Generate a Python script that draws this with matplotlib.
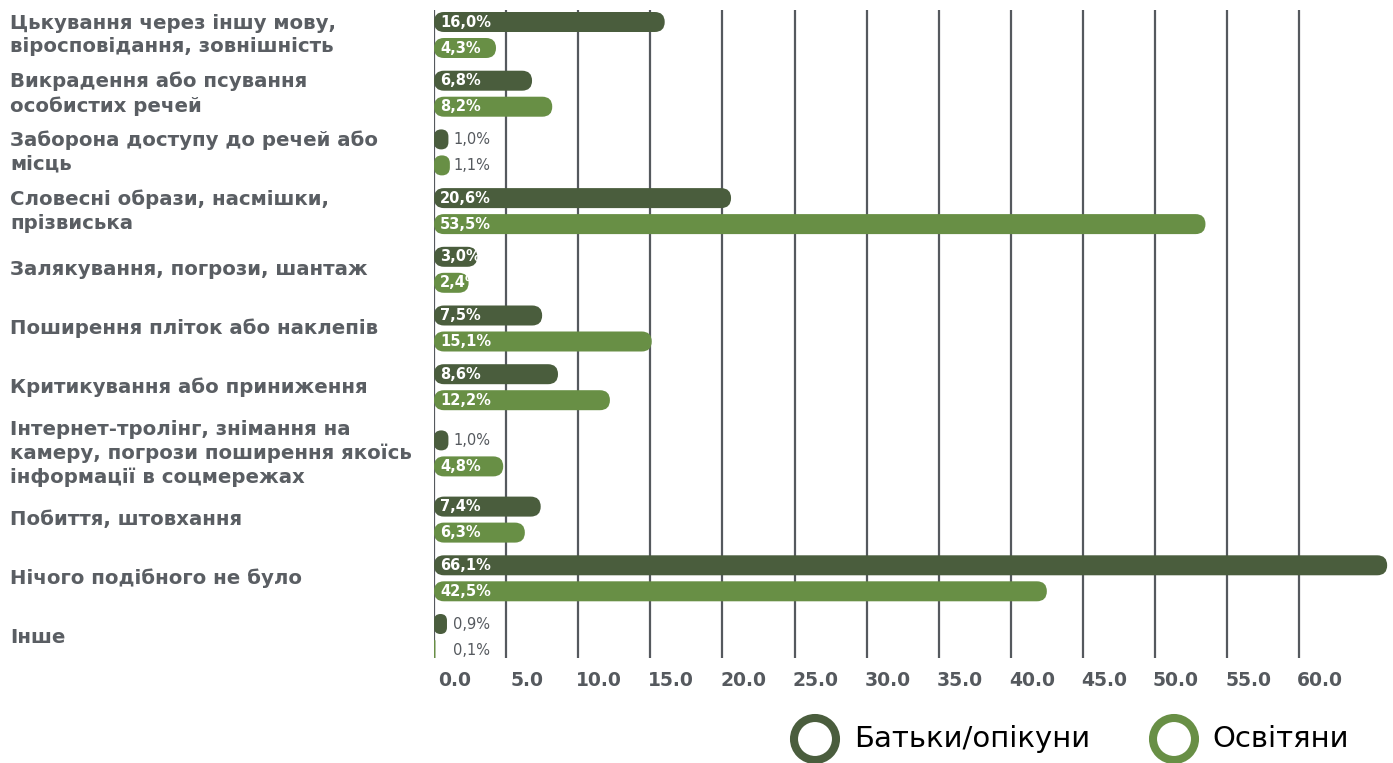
import numpy as np
import matplotlib.pyplot as plt
from matplotlib.patches import FancyBboxPatch, Circle

# дані
categories = [
    "Цькування через іншу мову,\nвіросповідання, зовнішність",
    "Викрадення або псування\nособистих речей",
    "Заборона доступу до речей або\nмісць",
    "Словесні образи, насмішки,\nпрізвиська",
    "Залякування, погрози, шантаж",
    "Поширення пліток або наклепів",
    "Критикування або приниження",
    "Інтернет-тролінг, знімання на\nкамеру, погрози поширення якоїсь\nінформації в соцмережах",
    "Побиття, штовхання",
    "Нічого подібного не було",
    "Інше",
]
parents = [16.0, 6.8, 1.0, 20.6, 3.0, 7.5, 8.6, 1.0, 7.4, 66.1, 0.9]
teachers = [4.3, 8.2, 1.1, 53.5, 2.4, 15.1, 12.2, 4.8, 6.3, 42.5, 0.1]
series_names = ["Батьки/опікуни", "Освітяни"]
ticks = np.arange(0, 61, 5)

dark = "#4a5d3d"
light = "#688f45"
grey = "#55595e"
font = "DejaVu Sans"

W, H = 1393, 763
fig = plt.figure(figsize=(W / 100, H / 100), dpi=100)

px_per_unit = 14.42
ax_left, ax_top, ax_bottom = 434, 10, 658
ax = fig.add_axes([ax_left / W, 1 - ax_bottom / H, (W - ax_left) / W, (ax_bottom - ax_top) / H])
ax.set_xlim(0, (W - ax_left) / px_per_unit)
ax.set_ylim(ax_bottom, ax_top)  # y у пікселях

# центри груп: більший відступ біля трирядкової підписи
centers = []
y = 35.0
for i, c in enumerate(categories):
    if i > 0:
        y += 58.7
        if c.count("\n") >= 2 or categories[i - 1].count("\n") >= 2:
            y += 7.5
    centers.append(y)

bar_h = 20
off = 13


def pill(x_val, yc, color):
    r = min(10 / px_per_unit, x_val / 2)
    p = FancyBboxPatch((0, yc - bar_h / 2), x_val, bar_h,
                       boxstyle=f"round,pad=0,rounding_size={r}",
                       mutation_aspect=px_per_unit,
                       fc=color, ec="none", zorder=3)
    ax.add_patch(p)
    return p


for yc, pv, tv in zip(centers, parents, teachers):
    for val, yy, col in [(pv, yc - off, dark), (tv, yc + off, light)]:
        p = pill(val, yy, col)
        lab = f"{val:.1f}%".replace(".", ",")
        if val >= 2:
            t = ax.text(6 / px_per_unit, yy, lab, color="white", fontsize=10.5,
                        fontweight="bold", va="center", ha="left", family=font, zorder=4)
            t.set_clip_path(p)
        else:
            ax.text(19 / px_per_unit, yy, lab, color=grey, fontsize=10.5,
                    va="center", ha="left", family=font, zorder=4)

# сітка
for t in ticks:
    ax.axvline(t, color=grey, lw=1.6, zorder=1)

# підписи осі зсунуті праворуч від ліній сітки, як в оригіналі
ax.set_xticks(ticks + 21 / px_per_unit)
ax.set_xticklabels([f"{t:.1f}" for t in ticks], fontsize=13.5, color=grey,
                   family=font, fontweight="bold")
ax.tick_params(axis="x", length=0, pad=9)
ax.set_yticks([])
for s in ax.spines.values():
    s.set_visible(False)

# підписи категорій та легенда в піксельних координатах
ov = fig.add_axes([0, 0, 1, 1], facecolor="none")
ov.set_xlim(0, W)
ov.set_ylim(H, 0)
ov.axis("off")
for c, yc in zip(categories, centers):
    ov.text(10, yc, c, fontsize=14.2, color="#5a5e63", ha="left", va="center",
            family=font, fontweight="bold", linespacing=1.3)

for cx, tx, name, col in [(815, 854, series_names[0], dark), (1174, 1212, series_names[1], light)]:
    ov.add_patch(Circle((cx, 739), 21, fill=False, ec=col, lw=5.8))
    ov.text(tx, 739, name, fontsize=21, color="black", ha="left", va="center", family=font)

fig.savefig("out.png", dpi=100)
